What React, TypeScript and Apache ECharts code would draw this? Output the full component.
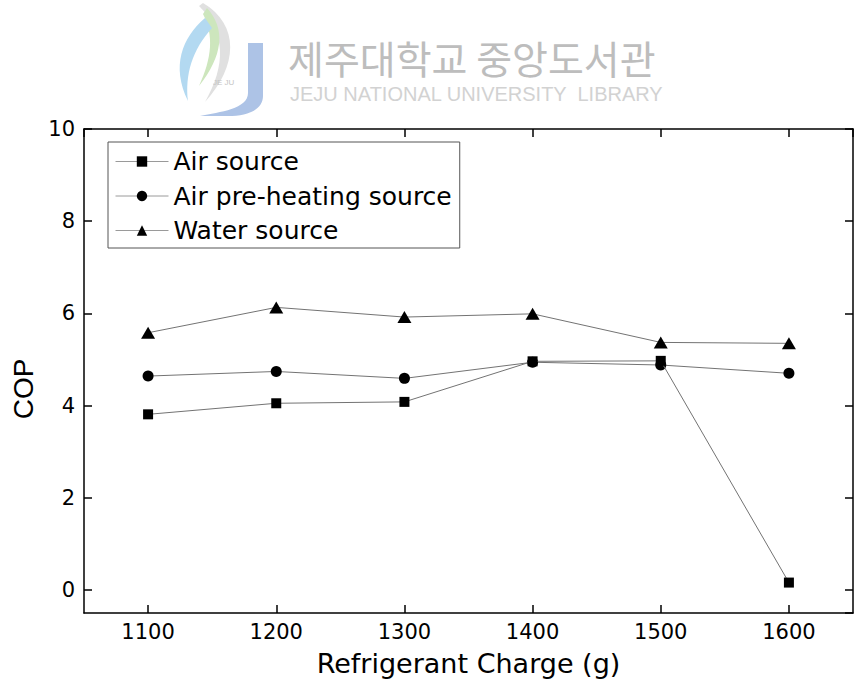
import React, { useEffect, useRef } from "react";
import * as echarts from "echarts";

// Refrigerant charge (g) and measured COP for each heat source
const charges = [1100, 1200, 1300, 1400, 1500, 1600];
const airSource = [3.81, 4.05, 4.08, 4.96, 4.97, 0.16];
const airPreheating = [4.64, 4.74, 4.59, 4.94, 4.88, 4.7];
const waterSource = [5.58, 6.13, 5.92, 5.99, 5.37, 5.35];
const seriesNames = ["Air source", "Air pre-heating source", "Water source"];

const xTitle = "Refrigerant Charge (g)";
const yTitle = "COP";
const libraryNameKo = "제주대학교 중앙도서관";
const libraryNameEn = "JEJU NATIONAL UNIVERSITY  LIBRARY";

// Library emblem outlines (swooshes and the J stroke)
echarts.graphic.registerShape(
  "embOuter",
  echarts.graphic.extendPath("M203 3 C240 25 238 66 205 102 C226 66 226 32 199 6 Z", {})
);
echarts.graphic.registerShape(
  "embGreen",
  echarts.graphic.extendPath("M207 8 C226 29 223 56 199 86 C212 58 214 35 203 14 Z", {})
);
echarts.graphic.registerShape(
  "embBlue",
  echarts.graphic.extendPath("M205 18 C182 38 171 66 188 101 C185 75 192 50 212 28 Z", {})
);
echarts.graphic.registerShape(
  "embJ",
  echarts.graphic.extendPath(
    "M248 43 L263 43 L263 96 C263 110 247 116 228 116 L200 116 C220 112 248 109 248 93 Z",
    {}
  )
);

const pair = (ys: number[]) => charges.map((x, i) => [x, ys[i]]);

const tickFont = "DejaVu Sans";
const frameLine = { color: "#000", width: 1.5 };

function buildOption(): echarts.EChartsOption {
  const xBase = {
    type: "value" as const,
    min: 1050,
    max: 1650,
    splitLine: { show: false },
    axisLine: { show: true, onZero: false, lineStyle: frameLine },
    axisTick: { show: true, inside: true, length: 8, lineStyle: frameLine },
  };
  const yBase = {
    type: "value" as const,
    min: -0.5,
    max: 10,
    splitLine: { show: false },
    axisLine: { show: true, onZero: false, lineStyle: frameLine },
    axisTick: { show: true, inside: true, length: 8, lineStyle: frameLine },
  };
  const lineStyle = { color: "#737373", width: 1 };
  const itemStyle = { color: "#000" };

  return {
    animation: false,
    backgroundColor: "#fff",
    grid: { left: 84, right: 1, top: 129, bottom: 70, containLabel: false },
    legend: {
      orient: "vertical",
      left: 108,
      top: 142,
      padding: [7, 8, 5, 7],
      itemGap: 9.5,
      itemWidth: 53,
      itemHeight: 13,
      borderColor: "#555",
      borderWidth: 1,
      selectedMode: false,
      data: seriesNames,
      lineStyle: { color: "#9a9a9a", width: 1 },
      textStyle: { fontFamily: tickFont, fontSize: 25, lineHeight: 24, color: "#000" },
    },
    xAxis: [
      {
        ...xBase,
        position: "bottom",
        name: xTitle,
        nameLocation: "middle",
        nameGap: 37,
        nameTextStyle: { fontFamily: tickFont, fontSize: 27, color: "#000" },
        axisLabel: {
          showMinLabel: false,
          showMaxLabel: false,
          margin: 8,
          fontFamily: tickFont,
          fontSize: 21,
          color: "#000",
          formatter: (v: number) => String(v),
        },
      },
      { ...xBase, position: "top", axisLabel: { show: false } },
    ],
    yAxis: [
      {
        ...yBase,
        position: "left",
        name: yTitle,
        nameLocation: "middle",
        nameGap: 46,
        nameTextStyle: {
          fontFamily: "Liberation Sans",
          fontSize: 28,
          color: "#000",
          padding: [0, 36, 0, 0],
        },
        axisLabel: {
          showMinLabel: false,
          margin: 9,
          fontFamily: tickFont,
          fontSize: 21,
          color: "#000",
        },
      },
      { ...yBase, position: "right", axisLabel: { show: false } },
    ],
    series: [
      {
        name: seriesNames[0],
        type: "line",
        data: pair(airSource),
        symbol: "rect",
        symbolSize: 10,
        lineStyle,
        itemStyle,
        z: 3,
      },
      {
        name: seriesNames[1],
        type: "line",
        data: pair(airPreheating),
        symbol: "circle",
        symbolSize: 11,
        lineStyle,
        itemStyle,
        z: 2,
      },
      {
        name: seriesNames[2],
        type: "line",
        data: pair(waterSource),
        symbol: "triangle",
        symbolSize: [14, 12],
        lineStyle,
        itemStyle,
        z: 2,
      },
    ],
    graphic: [
      { type: "embOuter", x: 0, y: 0, silent: true, z: -10, style: { fill: "#e0e0e0" } },
      { type: "embGreen", x: 0, y: 0, silent: true, z: -10, style: { fill: "#cde6bd" } },
      { type: "embBlue", x: 0, y: 0, silent: true, z: -10, style: { fill: "#b3d9f1" } },
      { type: "embJ", x: 0, y: 0, silent: true, z: -10, style: { fill: "#adc3e6" } },
      {
        type: "text",
        x: 213,
        y: 78,
        silent: true,
        z: -10,
        style: { text: "JE JU", fontSize: 8, fontFamily: "Liberation Sans", fill: "#c4c4c4", align: "left", verticalAlign: "top" },
      },
      {
        type: "text",
        x: 288,
        y: 35,
        silent: true,
        z: -10,
        style: {
          text: libraryNameKo,
          fontSize: 39,
          lineHeight: 44,
          fontFamily: "Noto Sans CJK KR",
          fill: "#bdbdbd",
          align: "left",
          verticalAlign: "top",
        },
      },
      {
        type: "text",
        x: 290,
        y: 84,
        silent: true,
        z: -10,
        style: {
          text: libraryNameEn,
          fontSize: 20,
          lineHeight: 20,
          fontFamily: "Liberation Sans",
          fill: "#d2d2d2",
          align: "left",
          verticalAlign: "top",
        },
      },
    ],
  } as echarts.EChartsOption;
}

export default function App() {
  const ref = useRef<HTMLDivElement>(null);
  useEffect(() => {
    if (!ref.current) return;
    const chart = echarts.init(ref.current, undefined, { renderer: "svg" });
    chart.setOption(buildOption());
    return () => chart.dispose();
  }, []);
  return (
    <div
      ref={ref}
      style={{ position: "fixed", left: 0, top: 0, width: 854, height: 683, background: "#fff" }}
    />
  );
}
